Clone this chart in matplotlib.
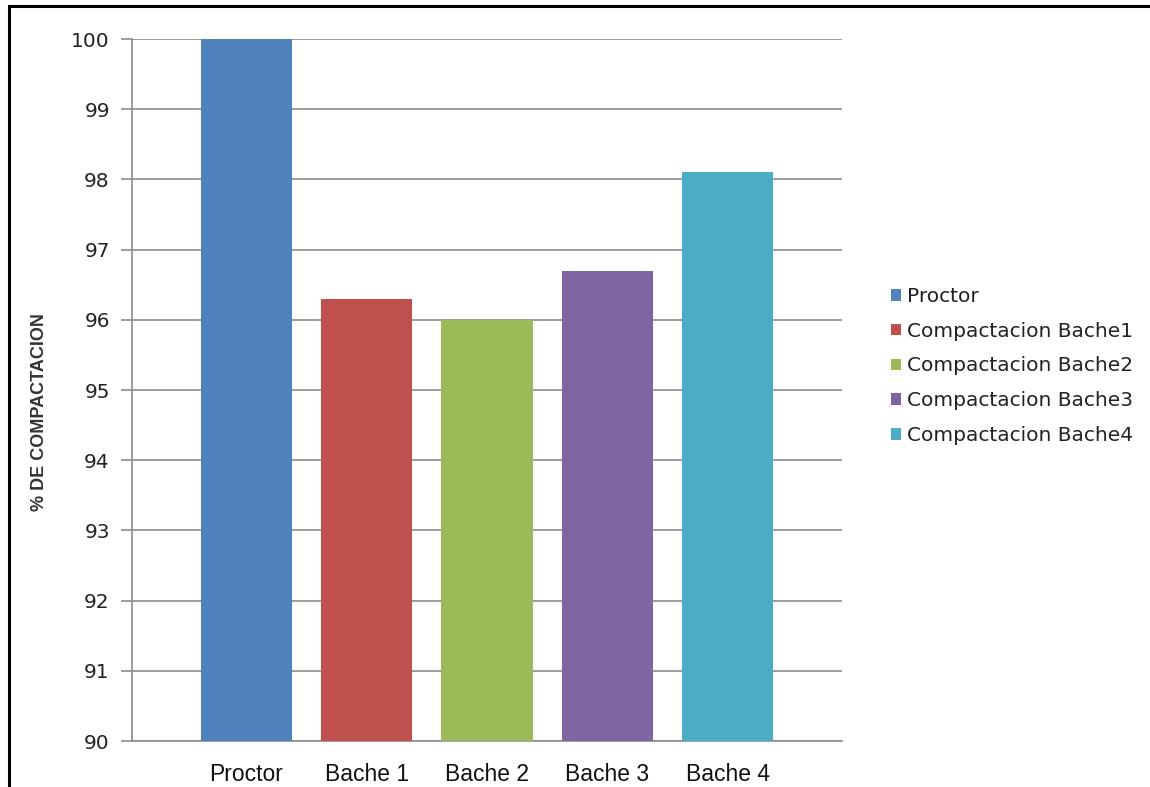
import matplotlib
matplotlib.use("Agg")
import matplotlib.pyplot as plt
from matplotlib.lines import Line2D
from matplotlib.patches import Patch

# porcentaje de compactacion por muestra
categorias = ["Proctor", "Bache 1", "Bache 2", "Bache 3", "Bache 4"]
series = ["Proctor", "Compactacion Bache1", "Compactacion Bache2",
          "Compactacion Bache3", "Compactacion Bache4"]
valores = [100.0, 96.3, 96.0, 96.7, 98.1]
colores = ["#4F81BD", "#C0504D", "#9BBB59", "#8064A2", "#4BACC6"]
yticks = list(range(90, 101))

fig = plt.figure(figsize=(11.5, 7.87), dpi=100)
ax = fig.add_axes([0.1148, 0.0584, 0.6174, 0.892])

x = list(range(len(categorias)))
ax.bar(x, [v - 90 for v in valores], bottom=90, width=0.76, color=colores, zorder=3)

ax.set_ylim(90, 100)
ax.set_xlim(-0.95, 4.95)
ax.set_yticks(yticks)
ax.set_yticklabels([str(t) for t in yticks], fontsize=14.5, color="#222222")
ax.set_xticks(x)
ax.set_xticklabels(categorias, fontsize=16.5, family="Liberation Sans", color="#111111")
ax.tick_params(axis="y", length=8, width=1.2, color="#8c8c8c", pad=8)
ax.tick_params(axis="x", length=0, pad=16)
ax.grid(axis="y", color="#8c8c8c", linewidth=1.2, zorder=0)

for s in ["top", "right"]:
    ax.spines[s].set_visible(False)
ax.spines["left"].set_color("#8c8c8c")
ax.spines["left"].set_linewidth(1.2)
ax.spines["bottom"].set_color("#8c8c8c")
ax.spines["bottom"].set_linewidth(1.2)

fig.text(40 / 1150, 1 - 412 / 787, "% DE COMPACTACION", rotation=90,
         ha="center", va="center", fontsize=13, fontweight="bold",
         family="Liberation Sans", color="#333333")

handles = [Patch(facecolor=c, edgecolor="none") for c in colores]
fig.legend(handles, series, loc="center left", bbox_to_anchor=(881 / 1150, 1 - 366 / 787),
           frameon=False, fontsize=14.5, handlelength=0.5, handleheight=0.5,
           handletextpad=0.3, labelspacing=0.78, borderpad=0, labelcolor="#222222")

# marco exterior
fig.add_artist(Line2D([9 / 1150, 9 / 1150], [0, 1 - 6 / 787], color="black", lw=2.2))
fig.add_artist(Line2D([9 / 1150, 1], [1 - 6 / 787, 1 - 6 / 787], color="black", lw=2.2))

fig.savefig("out.png", dpi=100, facecolor="white")
